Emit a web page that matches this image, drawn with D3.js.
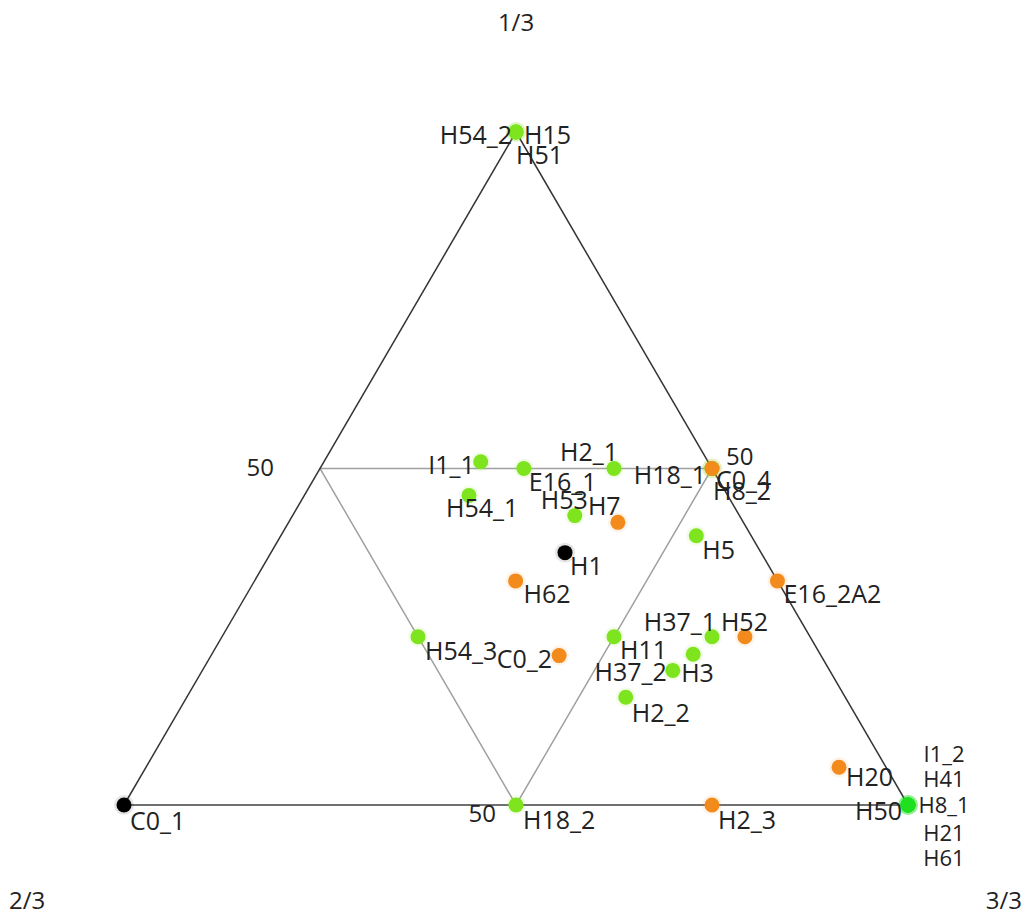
<!DOCTYPE html>
<html>
<head>
<meta charset="utf-8">
<script src="https://cdn.jsdelivr.net/npm/d3@7"></script>
<style>
  html, body { margin: 0; padding: 0; background: #fff; }
  svg text { font-family: "Open Sans", "Noto Sans", sans-serif; fill: #222; }
</style>
</head>
<body>
<svg id="chart" width="1027" height="917"></svg>
<script>
// ---- Data (ternary composition in %, top / left / right) ----
const names = ["H54_2","H15","H51","I1_1","E16_1","H2_1","H18_1","H8_2","C0_4","H54_1","H53","H7","H1","H5","H62","E16_2A2","H54_3","H11","H37_1","H52","C0_2","H3","H37_2","H2_2","H20","I1_2","H41","H8_1","H21","H61","H50","C0_1","H18_2","H2_3"];
const topVals   = [100,100,100,51,50,50,50,50,50,46,43,42,37.5,40,33.3,33.3,25,25,25,25,22.2,22.4,20,16,5.6,0,0,0,0,0,0,0,0,0];
const leftVals  = [0,0,0,29,24,12.5,0,0,0,33,21,16,25,7,33.3,0,50,25,12.5,8.3,33.3,16.2,20,28,6,0,0,0,0,0,0,100,50,25];
const rightVals = [0,0,0,20,26,37.5,50,50,50,21,36,42,37.5,53,33.3,66.7,25,50,62.5,66.7,44.4,61.4,60,56,88.4,100,100,100,100,100,100,0,50,75];
const groups    = ["g","g","g","g","g","g","g","g","o","g","g","o","k","g","o","o","g","g","g","o","o","g","g","g","o","b","b","b","b","b","b","k","g","o"];
const vertexLabels = ["1/3","2/3","3/3"];
const gridLabel = "50";

// ---- Styling / layout ----
const colors = { g: "#7ee41e", o: "#f28a1c", k: "#000000", b: "#1fe01f" };
const labelPlace = {
  "H54_2":["end",-4,12], "H15":["start",8,12], "H51":["start",0,32],
  "I1_1":["end",-6,12], "E16_1":["start",5,22], "H2_1":["end",4,-8],
  "H18_1":["end",-6,15], "C0_4":["start",4,20], "H8_2":["start",1,31],
  "H54_1":["start",-23,22], "H53":["end",13,-7], "H7":["start",-30,-7],
  "H1":["start",5,22], "H5":["start",6,23], "H62":["start",8,22],
  "E16_2A2":["start",6,22], "H54_3":["start",7,23], "H11":["start",6,22],
  "H37_1":["end",4,-6], "H52":["start",-24,-6], "C0_2":["end",-7,12],
  "H3":["start",-12,28], "H37_2":["end",-6,11], "H2_2":["start",6,25],
  "H20":["start",7,19], "H50":["end",-6,15],
  "I1_2":["middle",36,-43], "H41":["middle",36,-18], "H8_1":["middle",36,8],
  "H21":["middle",36,36], "H61":["middle",36,61],
  "C0_1":["start",6,25], "H18_2":["start",7,24], "H2_3":["start",6,24]
};
const smallLabels = new Set(["I1_2","H41","H8_1","H21","H61"]);
const labelSize = 25, smallSize = 22, axisSize = 24;

const svg = d3.select("#chart");
const xScale = d3.scaleLinear().domain([0, 100]).range([124, 908]);
const yScale = d3.scaleLinear().domain([0, 100]).range([805, 132]);
// position from (top, left, right)
const pos = (t, l, r) => [xScale(r + t / 2), yScale(t)];

const data = names.map((n, i) => ({ name: n, t: topVals[i], l: leftVals[i], r: rightVals[i], g: groups[i] }));

// Inner grid triangle (50% lines)
const mids = [pos(50, 50, 0), pos(50, 0, 50), pos(0, 50, 50)];
svg.append("polygon")
  .attr("points", mids.map(p => p.join(",")).join(" "))
  .attr("fill", "none").attr("stroke", "#a0a0a0").attr("stroke-width", 1.5);

// Outer triangle
const T = pos(100, 0, 0), L = pos(0, 100, 0), R = pos(0, 0, 100);
svg.append("line").attr("x1", L[0]).attr("y1", L[1]).attr("x2", R[0]).attr("y2", R[1])
  .attr("stroke", "#707070").attr("stroke-width", 2);
svg.append("line").attr("x1", L[0]).attr("y1", L[1]).attr("x2", T[0]).attr("y2", T[1])
  .attr("stroke", "#333").attr("stroke-width", 1.5);
svg.append("line").attr("x1", T[0]).attr("y1", T[1]).attr("x2", R[0]).attr("y2", R[1])
  .attr("stroke", "#333").attr("stroke-width", 1.5);

// Grid labels "50"
const gl = [[mids[0], "end", -46, 7], [mids[1], "start", 14, -4], [mids[2], "end", -20, 17]];
gl.forEach(([p, a, dx, dy]) => {
  svg.append("text").attr("x", p[0] + dx).attr("y", p[1] + dy).attr("text-anchor", a)
    .attr("font-size", axisSize).text(gridLabel);
});

// Vertex labels
svg.append("text").attr("x", T[0]).attr("y", 31).attr("text-anchor", "middle").attr("font-size", axisSize).text(vertexLabels[0]);
svg.append("text").attr("x", 9).attr("y", 909).attr("text-anchor", "start").attr("font-size", axisSize).text(vertexLabels[1]);
svg.append("text").attr("x", 1022).attr("y", 909).attr("text-anchor", "end").attr("font-size", axisSize).text(vertexLabels[2]);

// Points (halo + dot)
const pts = svg.append("g");
pts.selectAll("circle.halo").data(data).join("circle").attr("class", "halo")
  .attr("cx", d => pos(d.t, d.l, d.r)[0]).attr("cy", d => pos(d.t, d.l, d.r)[1])
  .attr("r", 10).attr("fill", d => colors[d.g]).attr("opacity", 0.1);
pts.selectAll("circle.dot").data(data).join("circle").attr("class", "dot")
  .attr("cx", d => pos(d.t, d.l, d.r)[0]).attr("cy", d => pos(d.t, d.l, d.r)[1])
  .attr("r", 7.5).attr("fill", d => colors[d.g]);

// Labels
svg.append("g").selectAll("text").data(data).join("text")
  .attr("x", d => pos(d.t, d.l, d.r)[0] + labelPlace[d.name][1])
  .attr("y", d => pos(d.t, d.l, d.r)[1] + labelPlace[d.name][2])
  .attr("text-anchor", d => labelPlace[d.name][0])
  .attr("font-size", d => smallLabels.has(d.name) ? smallSize : labelSize)
  .text(d => d.name);
</script>
</body>
</html>
